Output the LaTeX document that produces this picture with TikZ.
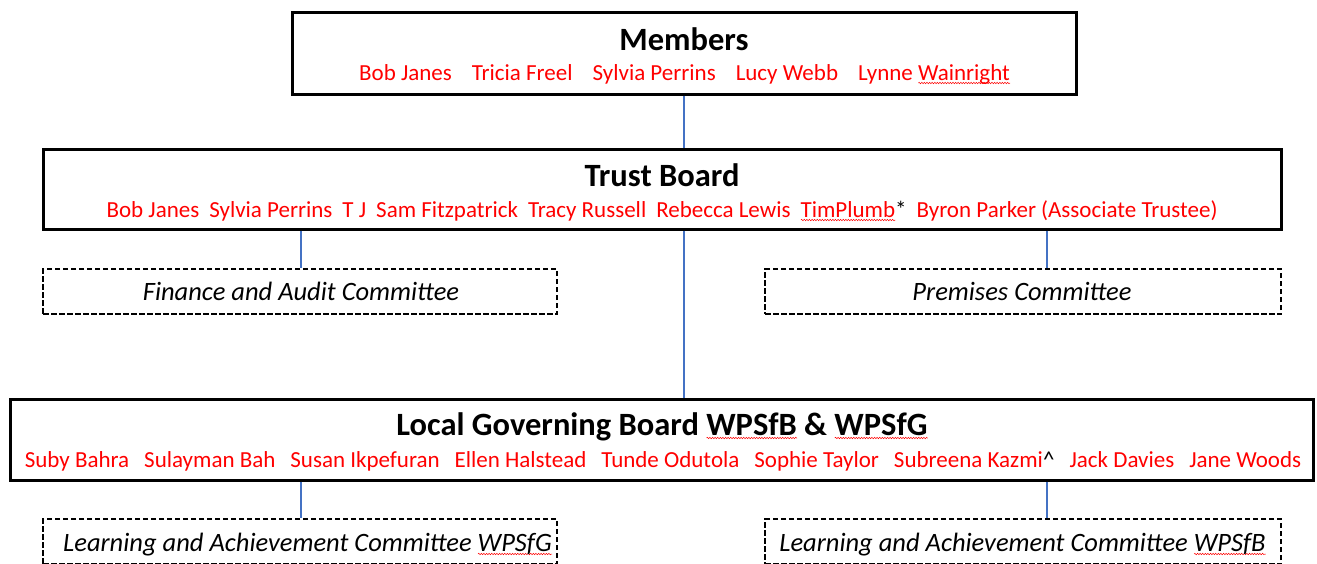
\documentclass[tikz,border=0pt]{standalone}
\usepackage{fontspec}
\setmainfont{Carlito}
\usetikzlibrary{decorations.pathmorphing}
\definecolor{conncol}{RGB}{68,114,196}
\definecolor{namered}{RGB}{255,0,0}
\newlength\spw
\newcommand\spell[1]{\settowidth\spw{#1}\rlap{\tikz[baseline=0pt]\draw[namered,line width=0.5pt,decorate,decoration={snake,amplitude=0.7pt,segment length=2.6pt}] (0pt,-3pt)--(\spw,-3pt);}#1}
\newcommand\gap[1]{\hspace{#1pt}}
\tikzset{
  board/.style={draw=black,line width=3pt,rectangle,inner sep=0pt},
  cmte/.style={draw=black,line width=1.6pt,dash pattern=on 5.5pt off 2.5pt,rectangle,inner sep=0pt},
  title/.style={font=\fontsize{32.5}{36}\selectfont\bfseries,inner sep=0pt,anchor=base},
  names/.style={font=\fontsize{23}{26}\selectfont,text=namered,inner sep=0pt,anchor=base},
  ctext/.style={font=\fontsize{26.5}{30}\selectfont\itshape,inner sep=0pt,anchor=base},
  conn/.style={draw=conncol,line width=2.6pt},
}
\begin{document}
\begin{tikzpicture}[x=1pt,y=-1pt]
\useasboundingbox (0,0) rectangle (1317,563);
\clip (0,0) rectangle (1317,563);
% boxes
\node[board,minimum width=784pt,minimum height=82pt] (mem) at (684,53) {};
\node[board,minimum width=1238pt,minimum height=80pt] (tb) at (662,189) {};
\node[cmte,minimum width=514pt,minimum height=45pt] (fin) at (300,291.5) {};
\node[cmte,minimum width=516pt,minimum height=45pt] (prem) at (1023,291.5) {};
\node[board,minimum width=1303pt,minimum height=81pt] (lgb) at (661.5,439.5) {};
\node[cmte,minimum width=514pt,minimum height=45pt] (lacg) at (300,541.5) {};
\node[cmte,minimum width=516pt,minimum height=45pt] (lacb) at (1023,541.5) {};
% texts
\node[title] (memt) at (684,50) {Members};
\node[names] (memn) at (684.5,80) {Bob Janes\gap{20}Tricia Freel\gap{20}Sylvia Perrins\gap{20}Lucy Webb\gap{20}Lynne \spell{Wainright}};
\node[title] (tbt) at (662,186) {Trust Board};
\node[names] (tbn) at (662,217) {Bob Janes\gap{10}Sylvia Perrins\gap{10}T J\gap{10}Sam Fitzpatrick\gap{10}Tracy Russell\gap{10}Rebecca Lewis\gap{10}\spell{TimPlumb}\textcolor{black}{*}\gap{10}Byron Parker (Associate Trustee)};
\node[ctext] (fint) at (301,300) {Finance and Audit Committee};
\node[ctext] (premt) at (1022,300) {Premises Committee};
\node[title] (lgbt) at (662,435) {Local Governing Board \spell{WPSfB} \& \spell{WPSfG}};
\node[names] (lgbn) at (663,467) {Suby Bahra\gap{15}Sulayman Bah\gap{15}Susan Ikpefuran\gap{15}Ellen Halstead\gap{15}Tunde Odutola\gap{15}Sophie Taylor\gap{15}Subreena Kazmi\textcolor{black}{\^{}}\gap{15}Jack Davies\gap{15}Jane Woods};
\node[ctext] (lacgt) at (307.5,551) {Learning and Achievement Committee \spell{WPSfG}};
\node[ctext] (lacbt) at (1022.5,551) {Learning and Achievement Committee \spell{WPSfB}};
% connectors
\coordinate (cx) at (684,0);
\coordinate (lx) at (301,0);
\coordinate (rx) at (1047,0);
\draw[conn] (mem.south -| cx) -- (tb.north -| cx);
\draw[conn] (tb.south -| lx) -- (fin.north -| lx);
\draw[conn] (tb.south -| rx) -- (prem.north -| rx);
\draw[conn] (tb.south -| cx) -- (lgb.north -| cx);
\draw[conn] (lgb.south -| lx) -- (lacg.north -| lx);
\draw[conn] (lgb.south -| rx) -- (lacb.north -| rx);
\end{tikzpicture}
\end{document}
